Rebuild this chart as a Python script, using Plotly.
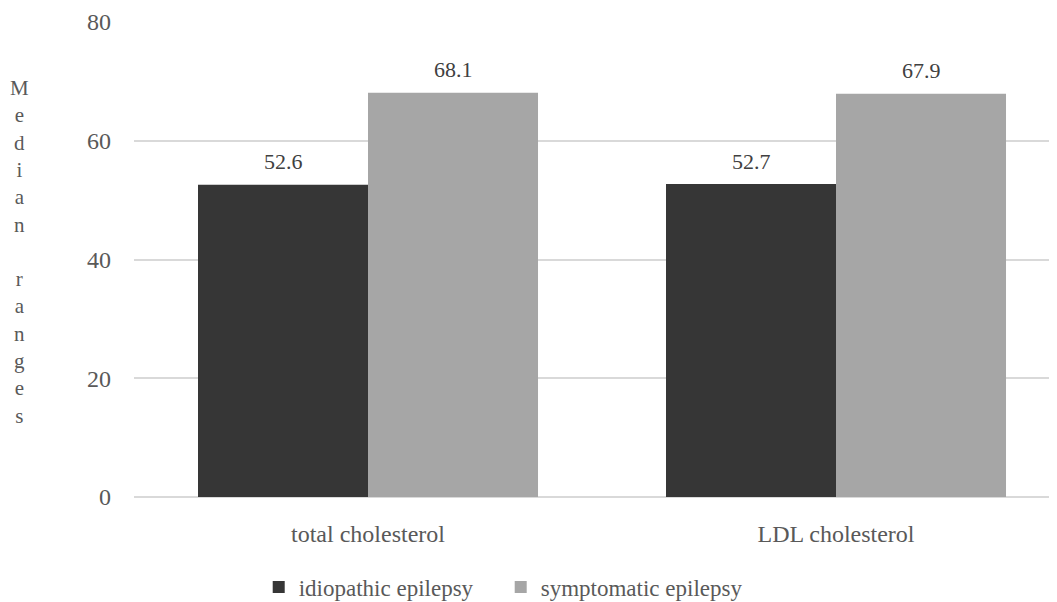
import plotly.graph_objects as go

categories = ["total cholesterol", "LDL cholesterol"]
idiopathic = [52.6, 52.7]
symptomatic = [68.1, 67.9]
series_names = ["idiopathic epilepsy", "symptomatic epilepsy"]
y_ticks = [0, 20, 40, 60, 80]
y_title = "Median ranges"

FONT = "Liberation Serif, Times New Roman, Times, serif"
BAR_HALF_PX = 85  # half the drawn bar width, used to centre value labels

fig = go.Figure()
fig.add_trace(go.Bar(
    name=series_names[0], x=categories, y=idiopathic,
    marker=dict(color="#363636", line=dict(width=0)),
))
fig.add_trace(go.Bar(
    name=series_names[1], x=categories, y=symptomatic,
    marker=dict(color="#a6a6a6", line=dict(width=0)),
))

annotations = []
for series, shift in ((idiopathic, -BAR_HALF_PX), (symptomatic, BAR_HALF_PX)):
    for cat, val in zip(categories, series):
        annotations.append(dict(
            x=cat, y=val, xref="x", yref="y", text=f"{val:.1f}",
            showarrow=False, xshift=shift, yshift=23, yanchor="middle",
            font=dict(family=FONT, size=22, color="#404040"),
        ))

annotations.append(dict(
    text="<br>".join(list(y_title)), xref="paper", yref="paper",
    x=-0.124, y=0.515, xanchor="center", yanchor="middle",
    showarrow=False, align="center",
    font=dict(family=FONT, size=21, color="#595959"),
))

fig.update_layout(
    width=1049, height=594,
    margin=dict(l=126, r=0, t=14, b=105, autoexpand=False),
    paper_bgcolor="white", plot_bgcolor="white",
    barmode="group", bargap=0.2735, bargroupgap=0,
    font=dict(family=FONT, size=24, color="#595959"),
    xaxis=dict(range=[-0.5, 1.4722], showgrid=False, showline=False,
               ticks="", automargin=False,
               tickfont=dict(family=FONT, size=24, color="#595959"),
               ticklabelstandoff=20),
    yaxis=dict(range=[0, 80], tickvals=y_ticks, showgrid=True,
               gridcolor="#d9d9d9", gridwidth=1.5, zeroline=True,
               zerolinecolor="#d9d9d9", zerolinewidth=1.5, showline=False,
               ticks="", automargin=False,
               tickfont=dict(family=FONT, size=24, color="#595959"),
               ticklabelstandoff=22),
    showlegend=True,
    legend=dict(orientation="h", xref="container", yref="container",
                x=0.239, xanchor="left", y=0.025, yanchor="middle",
                font=dict(family=FONT, size=23, color="#595959"),
                itemwidth=30, entrywidth=197, traceorder="normal"),
    annotations=annotations,
)

fig.write_html("out.html")
